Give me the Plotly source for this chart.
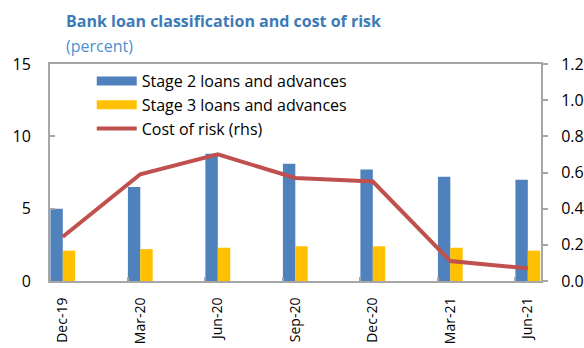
import plotly.graph_objects as go

# Quarterly periods
periods = ["Dec-19", "Mar-20", "Jun-20", "Sep-20", "Dec-20", "Mar-21", "Jun-21"]

# Loan classification shares (percent, left axis)
stage2 = [5.0, 6.5, 8.8, 8.1, 7.7, 7.2, 7.0]
stage3 = [2.1, 2.2, 2.3, 2.4, 2.4, 2.3, 2.1]

# Cost of risk (percent, right axis)
cost_of_risk = [0.245, 0.59, 0.70, 0.57, 0.55, 0.11, 0.07]

BLUE = "#4F81BD"
YELLOW = "#FFC000"
RED = "#C0504D"
AXIS = "#A6A6A6"
FONT = "Segoe UI, Open Sans, Noto Sans, sans-serif"

pos = list(range(len(periods)))

fig = go.Figure()
fig.add_trace(go.Bar(x=pos, y=stage2, name="Stage 2 loans and advances",
                     marker=dict(color=BLUE, line=dict(width=0)), showlegend=False))
fig.add_trace(go.Bar(x=pos, y=stage3, name="Stage 3 loans and advances",
                     marker=dict(color=YELLOW, line=dict(width=0)), showlegend=False))
fig.add_trace(go.Scatter(x=pos, y=cost_of_risk, name="Cost of risk (rhs)", yaxis="y2",
                         mode="lines", line=dict(color=RED, width=4), showlegend=False))

# Legend entries drawn with wide swatches
for name, color, w in [("Stage 2 loans and advances", BLUE, 9),
                       ("Stage 3 loans and advances", YELLOW, 9),
                       ("Cost of risk (rhs)", RED, 4)]:
    fig.add_trace(go.Scatter(x=[None], y=[None], mode="lines", name=name,
                             line=dict(color=color, width=w), hoverinfo="skip"))

fig.update_layout(
    width=584, height=348,
    margin=dict(l=50, r=43, t=64, b=67, autoexpand=False),
    paper_bgcolor="white", plot_bgcolor="white",
    font=dict(family=FONT, size=16, color="#000000"),
    barmode="group", bargap=0.68, bargroupgap=0,
    showlegend=True,
    legend=dict(x=0.085, y=1.0, xanchor="left", yanchor="top",
                bgcolor="rgba(0,0,0,0)", font=dict(size=16, family=FONT),
                tracegroupgap=0, itemwidth=40),
    xaxis=dict(
        range=[-0.165, 6.17], tickmode="array", tickvals=pos, ticktext=periods,
        tickangle=-90, ticks="", showgrid=False, zeroline=False, automargin=False,
        showline=True, linecolor=AXIS, linewidth=2, mirror=True,
        ticklabelstandoff=9,
        minor=dict(tick0=-0.16, dtick=1, ticks="inside", ticklen=4,
                   tickcolor=AXIS, tickwidth=2, showgrid=False),
        tickfont=dict(size=14),
    ),
    yaxis=dict(
        range=[0, 15], dtick=5, ticks="inside", ticklen=5, tickcolor=AXIS, tickwidth=2,
        showgrid=False, zeroline=False, showline=True, linecolor=AXIS, linewidth=2,
        ticklabelstandoff=14, tickfont=dict(size=16), automargin=False,
    ),
    yaxis2=dict(
        range=[0, 1.2], dtick=0.2, tickformat=".1f", overlaying="y", side="right",
        ticks="outside", ticklen=5, tickcolor=AXIS, tickwidth=2,
        showgrid=False, zeroline=False, showline=True, linecolor=AXIS, linewidth=2,
        ticklabelstandoff=10, tickfont=dict(size=16), automargin=False,
    ),
    annotations=[
        dict(text="<b>Bank loan classification and cost of risk</b>", xref="paper", yref="paper",
             x=0.0285, y=1.20, xanchor="left", yanchor="middle", showarrow=False,
             font=dict(size=16, color="#3D7AB8", family=FONT)),
        dict(text="(percent)", xref="paper", yref="paper",
             x=0.0285, y=1.085, xanchor="left", yanchor="middle", showarrow=False,
             font=dict(size=16, color="#4F8FCF", family=FONT)),
    ],
)

fig.write_html("out.html")
